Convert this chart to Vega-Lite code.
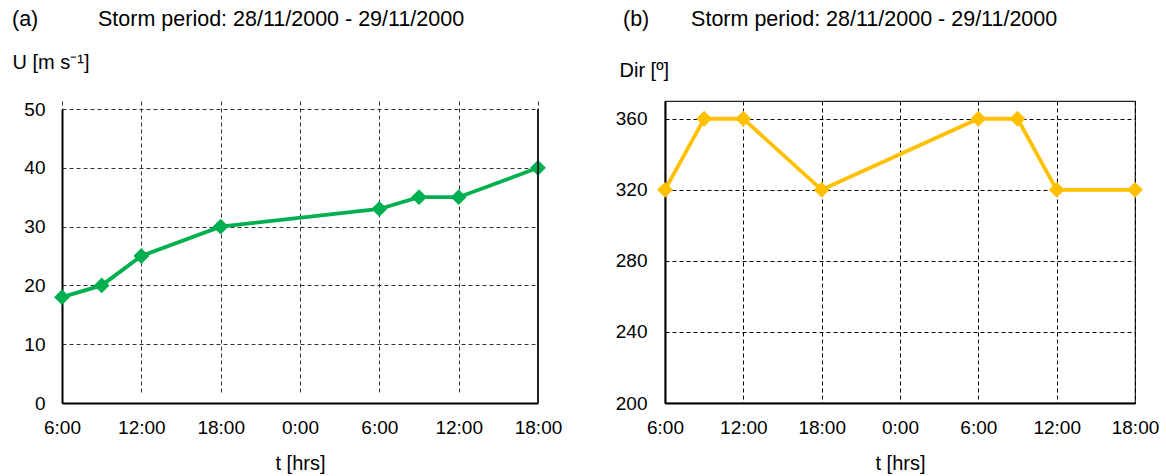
{
  "$schema": "https://vega.github.io/schema/vega-lite/v6.json",
  "background": "white",
  "padding": {"left": 12, "top": 7, "right": 8, "bottom": 4},
  "spacing": 52,
  "config": {
    "font": "Liberation Sans",
    "view": {"stroke": null},
    "axis": {
      "labelFont": "Liberation Sans",
      "labelFontSize": 19,
      "labelColor": "black",
      "labelFlush": false,
      "titleFont": "Liberation Sans",
      "titleFontSize": 20,
      "titleFontWeight": "normal",
      "titleColor": "black",
      "ticks": false,
      "grid": true,
      "domainColor": "black",
      "domainWidth": 2,
      "gridColor": "#333333",
      "gridDash": [4, 3],
      "gridWidth": 1,
      "gridOpacity": 1
    },
    "title": {
      "font": "Liberation Sans",
      "fontSize": 21.5,
      "fontWeight": "normal",
      "color": "black",
      "anchor": "start",
      "frame": "group"
    }
  },
  "hconcat": [
    {
      "title": {"text": "(a)\u00a0\u00a0\u00a0\u00a0\u00a0\u00a0\u00a0\u00a0\u00a0\u00a0Storm period: 28/11/2000 - 29/11/2000", "dx": -50, "offset": 22},
      "width": 476,
      "height": 302,
      "data": {
        "values": [
          {"t": 0, "U": 18},
          {"t": 3, "U": 20},
          {"t": 6, "U": 25},
          {"t": 12, "U": 30},
          {"t": 24, "U": 33},
          {"t": 27, "U": 35},
          {"t": 30, "U": 35},
          {"t": 36, "U": 40}
        ]
      },
      "layer": [
        {
          "mark": {"type": "line", "color": "#00B050", "strokeWidth": 3.8},
          "encoding": {
            "x": {
              "field": "t",
              "type": "quantitative",
              "scale": {"domain": [0, 36], "nice": false},
              "axis": {
                "values": [0, 6, 12, 18, 24, 30, 36],
                "labelExpr": "((datum.value + 6) % 24) + ':00'",
                "labelPadding": 15,
                "grid": true,
                "title": "t [hrs]",
                "titlePadding": 16
              }
            },
            "y": {
              "field": "U",
              "type": "quantitative",
              "scale": {"domain": [0, 50], "nice": false, "range": [302, 8]},
              "axis": {
                "values": [0, 10, 20, 30, 40, 50],
                "labelPadding": 17,
                "grid": true,
                "title": "U [m s\u207b\u00b9]",
                "titleAngle": 0,
                "titleAlign": "left",
                "titleBaseline": "middle",
                "titleX": -50,
                "titleY": -39
              }
            }
          }
        },
        {
          "mark": {"type": "point", "shape": "diamond", "filled": true, "opacity": 1, "size": 250, "color": "#00B050"},
          "encoding": {
            "x": {"field": "t", "type": "quantitative"},
            "y": {"field": "U", "type": "quantitative"}
          }
        },
        {
          "mark": {"type": "rule", "color": "#222222", "strokeWidth": 1.2},
          "encoding": {
            "x": {"datum": 36, "type": "quantitative"},
            "y": {"datum": 0, "type": "quantitative"},
            "y2": {"datum": 50}
          }
        }
      ]
    },
    {
      "title": {"text": "(b)\u00a0\u00a0\u00a0\u00a0\u00a0\u00a0\u00a0Storm period: 28/11/2000 - 29/11/2000", "dx": -42, "offset": 30},
      "width": 470,
      "height": 302,
      "view": {"stroke": "#222222", "strokeWidth": 1.2},
      "data": {
        "values": [
          {"t": 0, "Dir": 320},
          {"t": 3, "Dir": 360},
          {"t": 6, "Dir": 360},
          {"t": 12, "Dir": 320},
          {"t": 24, "Dir": 360},
          {"t": 27, "Dir": 360},
          {"t": 30, "Dir": 320},
          {"t": 36, "Dir": 320}
        ]
      },
      "layer": [
        {
          "mark": {"type": "line", "color": "#FFC000", "strokeWidth": 3.8},
          "encoding": {
            "x": {
              "field": "t",
              "type": "quantitative",
              "scale": {"domain": [0, 36], "nice": false},
              "axis": {
                "values": [0, 6, 12, 18, 24, 30, 36],
                "labelExpr": "((datum.value + 6) % 24) + ':00'",
                "labelPadding": 15,
                "grid": true,
                "title": "t [hrs]",
                "titlePadding": 16,
                "gridColor": "black"
              }
            },
            "y": {
              "field": "Dir",
              "type": "quantitative",
              "scale": {"domain": [200, 370], "nice": false},
              "axis": {
                "values": [200, 240, 280, 320, 360],
                "labelPadding": 18,
                "grid": true,
                "gridColor": "black",
                "title": "Dir [\u00ba]",
                "titleAngle": 0,
                "titleAlign": "left",
                "titleBaseline": "middle",
                "titleX": -46,
                "titleY": -31
              }
            }
          }
        },
        {
          "mark": {"type": "point", "shape": "diamond", "filled": true, "opacity": 1, "size": 250, "color": "#FFC000"},
          "encoding": {
            "x": {"field": "t", "type": "quantitative"},
            "y": {"field": "Dir", "type": "quantitative"}
          }
        }
      ]
    }
  ]
}
